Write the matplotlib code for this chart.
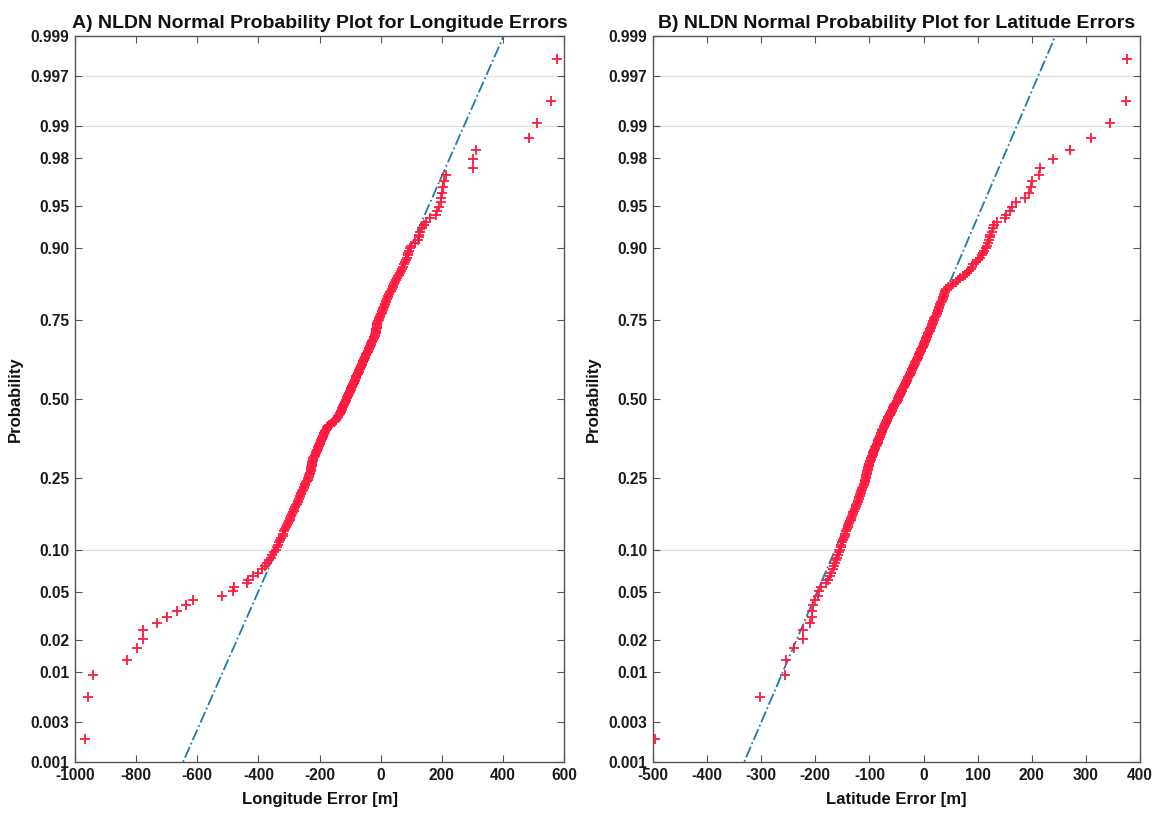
import matplotlib
matplotlib.use('Agg')
import matplotlib.pyplot as plt
import numpy as np
from statistics import NormalDist

# ---------------- data (sorted errors, metres) ----------------
lon_err = [
    -967, -956, -940, -831, -798, -776, -776, -731, -700, -667, -638, -613, -518, -482, -480,
    -438, -433, -417, -400, -389, -379,
    -372, -366, -360, -355, -349, -344, -339, -335, -331,
    -328, -325, -321, -318, -315, -312, -309, -306, -303, -301,
    -298, -295, -292, -290, -287, -285, -282, -280, -277, -275,
    -272, -270, -268, -265, -263, -261, -259, -256, -254, -252,
    -250, -248, -246, -244, -242, -239, -237, -235, -233, -231,
    -230, -229, -228, -227, -227, -226, -225, -224, -223, -222,
    -221, -220, -218, -216, -215, -213, -211, -209, -208, -206,
    -204, -202, -201, -199, -198, -196, -194, -192, -191, -189,
    -187, -186, -184, -182, -181, -179, -177, -175, -172, -168,
    -164, -159, -154, -150, -147, -144, -141, -139, -136, -134, -132,
    -130, -129, -127, -126, -124, -122, -121, -119, -118, -116, -114, -113,
    -111, -110, -108, -106, -105, -103, -101,
    -100, -98, -96, -95, -93, -92, -90, -88, -87, -85,
    -84, -82, -80, -79, -77, -75, -74, -72, -70, -69,
    -67, -65, -64, -62, -60, -59, -57, -55, -54, -52,
    -50, -48, -47, -45, -43, -41, -39, -38, -36, -34,
    -32, -30, -29, -27, -25, -23, -21, -19, -18, -16,
    -15, -14, -14, -13, -13, -13, -13, -11, -9, -7,
    -5, -3, -1, 1, 3, 5, 7, 9, 11, 13,
    15, 17, 19, 21, 23, 25, 28, 30, 33, 36,
    39, 42, 45, 48, 51, 55, 58, 61, 64, 67,
    70, 73, 76, 79, 82, 85, 88, 91, 94, 97, 100,
    112, 121, 124, 127, 130, 135, 143, 150, 160, 180, 186, 192,
    196, 198, 200, 203, 207, 214, 301, 303, 311, 486, 511, 556, 576,
]

lat_err = [
    -496, -302, -256, -254, -239, -223, -222, -209, -207, -206, -204, -200, -196, -193, -190,
    -180, -177, -173, -172, -168, -165, -163, -162, -160, -159, -157, -155,
    -153, -152, -150, -149, -148, -146, -145, -143, -142, -140, -139, -137, -136,
    -135, -134, -132, -131, -130, -128, -127, -125, -124, -123,
    -122, -121, -120, -119, -118, -117, -116, -115, -114, -113,
    -112, -111, -110, -109, -109, -108, -107, -106, -106, -105,
    -104, -104, -103, -103, -102, -101, -101, -100, -99, -99,
    -98, -97, -96, -95, -94, -94, -93, -92, -91, -90,
    -89, -88, -87, -86, -85, -84, -84, -83, -82, -81,
    -80, -79, -78, -77, -77, -76, -75, -74, -73, -72,
    -71, -70, -69, -68, -67, -66, -65, -64, -63, -62,
    -61, -60, -59, -58, -57, -56, -55, -54, -52, -51, -50, -49, -48,
    -47, -46, -45, -44, -43, -42, -41,
    -40, -39, -38, -37, -36, -35, -34, -33, -32, -31,
    -30, -29, -28, -27, -26, -25, -24, -23, -22, -21,
    -20, -19, -18, -17, -16, -15, -14, -13, -12, -11,
    -10, -9, -8, -7, -6, -5, -4, -3, -2, -1,
    0, 1, 2, 3, 4, 5, 6, 7, 8, 9,
    10, 11, 12, 13, 14, 15, 16, 17, 18, 19,
    20, 21, 23, 24, 25, 26, 27, 28, 29, 30,
    31, 32, 34, 35, 36, 37, 38, 39, 40, 42,
    45, 50, 55, 60, 64, 68, 72, 77, 81, 84,
    87, 90, 92, 96, 100, 105, 108, 110, 112, 116,
    118, 119, 120, 122, 123, 126, 129, 131, 135, 150,
    153, 160, 164, 170, 188, 194, 198, 200, 214, 215,
    239, 271, 309, 345, 374, 375,
]

prob_ticks = [0.001, 0.003, 0.01, 0.02, 0.05, 0.10, 0.25, 0.50,
              0.75, 0.90, 0.95, 0.98, 0.99, 0.997, 0.999]
prob_labels = ['0.001', '0.003', '0.01', '0.02', '0.05', '0.10', '0.25', '0.50',
               '0.75', '0.90', '0.95', '0.98', '0.99', '0.997', '0.999']
grid_probs = [0.10, 0.99, 0.997]

titles = ['A) NLDN Normal Probability Plot for Longitude Errors',
          'B) NLDN Normal Probability Plot for Latitude Errors']
xlabels = ['Longitude Error [m]', 'Latitude Error [m]']
ylabel = 'Probability'
lon_xticks = [-1000, -800, -600, -400, -200, 0, 200, 400, 600]
lat_xticks = [-500, -400, -300, -200, -100, 0, 100, 200, 300, 400]

# ---------------- style ----------------
plt.rcParams['font.family'] = ['Liberation Sans', 'DejaVu Sans']
plt.rcParams['font.weight'] = 'bold'
MARK = '#ff1a40'
LINE = '#1f7aa8'
SPINE = '#555555'

nd = NormalDist()
fig = plt.figure(figsize=(11.56, 8.14), dpi=100)
ax_pos = [[0.0649, 0.0639, 0.4230, 0.8919], [0.5649, 0.0639, 0.4213, 0.8919]]

datasets = [lon_err, lat_err]
xticks_all = [lon_xticks, lat_xticks]

for k in range(2):
    ax = fig.add_axes(ax_pos[k])
    x = np.sort(np.asarray(datasets[k], dtype=float))
    n = len(x)
    p = (np.arange(1, n + 1) - 0.5) / n
    z = np.array([nd.inv_cdf(pi) for pi in p])

    # reference line through the 1st and 3rd quartiles
    q1, q3 = np.percentile(x, [25, 75])
    z1, z3 = nd.inv_cdf(0.25), nd.inv_cdf(0.75)
    slope = (q3 - q1) / (z3 - z1)
    zl = np.array([-3.5, 3.5])
    xl = q1 + (zl - z1) * slope

    zmin, zmax = nd.inv_cdf(0.001), nd.inv_cdf(0.999)
    for gp in grid_probs:
        ax.axhline(nd.inv_cdf(gp), color='#e2e2e2', lw=1.0, zorder=0)

    ax.plot(xl, zl, linestyle='-.', color=LINE, lw=1.3, zorder=2)
    ax.plot(x, z, linestyle='none', marker='+', color=MARK, ms=7.5, mew=1.3, zorder=3)

    xt = xticks_all[k]
    ax.set_xlim(xt[0], xt[-1])
    ax.set_ylim(zmin, zmax)
    ax.set_xticks(xt)
    ax.set_xticklabels([str(v) for v in xt])
    ax.set_yticks([nd.inv_cdf(pp) for pp in prob_ticks])
    ax.set_yticklabels(prob_labels)

    ax.tick_params(direction='in', top=True, right=True, length=5, width=0.8,
                   color=SPINE, labelsize=11.2, labelcolor='#1a1a1a', pad=4)
    for s in ax.spines.values():
        s.set_color(SPINE)
        s.set_linewidth(1.0)

    ax.set_title(titles[k], fontsize=14, fontweight='bold', pad=6, color='#111111')
    ax.set_xlabel(xlabels[k], fontsize=12, fontweight='bold', labelpad=7, color='#111111')
    ax.set_ylabel(ylabel, fontsize=12, fontweight='bold', labelpad=6, color='#111111')

fig.savefig('out.png', dpi=100, facecolor='white')
